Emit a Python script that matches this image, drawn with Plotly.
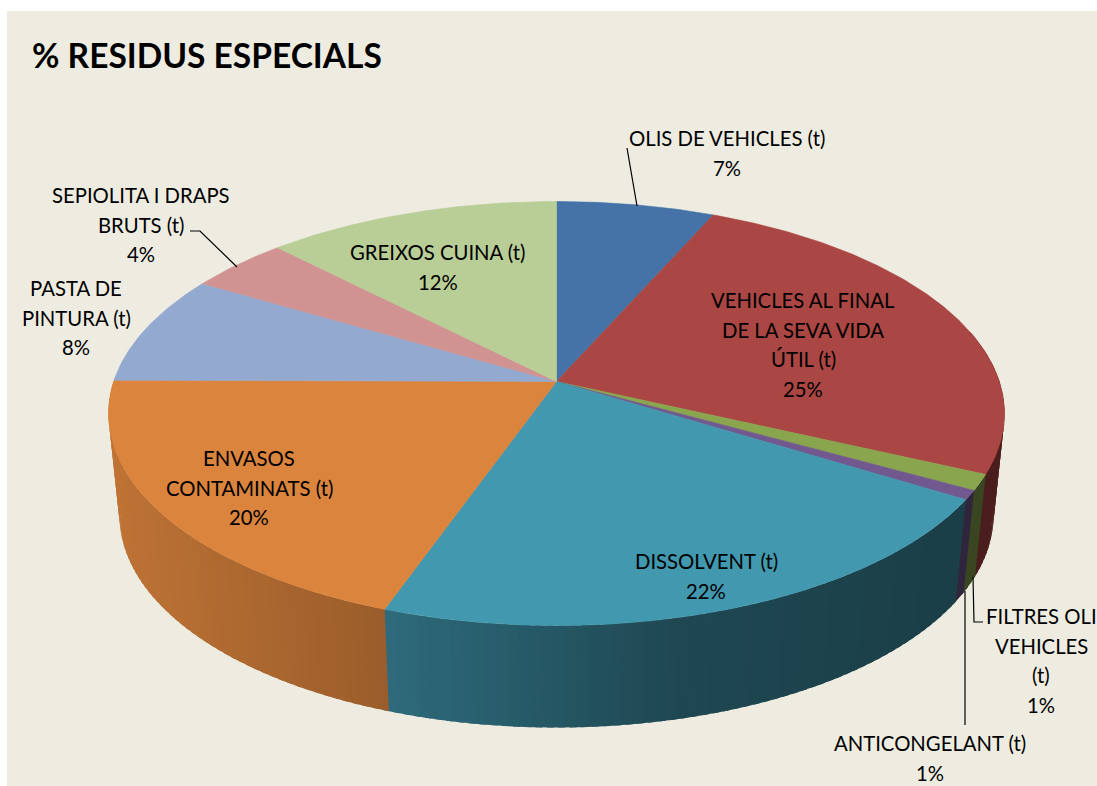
import numpy as np
import plotly.graph_objects as go

CATEGORIES = ["OLIS DE VEHICLES (t)", "VEHICLES AL FINAL DE LA SEVA VIDA ÚTIL (t)", "FILTRES OLI VEHICLES (t)",
              "ANTICONGELANT (t)", "DISSOLVENT (t)", "ENVASOS CONTAMINATS (t)", "PASTA DE PINTURA (t)",
              "SEPIOLITA I DRAPS BRUTS (t)", "GREIXOS CUINA (t)"]
VALUES = [6.6, 25.3, 1.2, 0.7, 21.6, 19.7, 8.4, 4.2, 12.3]
COLORS = ["#4573a7", "#aa4643", "#89a54e", "#71588f", "#4198af", "#db843d", "#93a9cf", "#d19392", "#b9cd96"]
LABEL_LINES = [["OLIS DE VEHICLES (t)"], ["VEHICLES AL FINAL", "DE LA SEVA VIDA", "ÚTIL (t)"],
               ["FILTRES OLI", "VEHICLES", "(t)"], ["ANTICONGELANT (t)"], ["DISSOLVENT (t)"],
               ["ENVASOS", "CONTAMINATS (t)"], ["PASTA DE", "PINTURA (t)"], ["SEPIOLITA I DRAPS", "BRUTS (t)"],
               ["GREIXOS CUINA (t)"]]
LABEL_X = [727, 803, 1041, 930, 706, 249, 76, 141, 438]
LABEL_Y = [138, 300, 616, 743, 561, 458, 288, 195, 252]
LINE_STEP = 29.5

FONT = "Lato"
BG = "#eeece1"
# disc geometry: (centre x, centre y, x radius, y radius)
TOP = (556.5, 413.5, 448, 212)
BOTTOM = (556.5, 515.5, 437, 212)
PERSP = 32 / 212
SHADE_X = [110, 390, 680, 960, 1005]
SHADE_F = [0.87, 0.70, 0.47, 0.41, 0.44]
STRIP = 0.022


def project(theta, disc):
    cx, cy, a, b = disc
    d = 1 + PERSP * np.cos(theta)
    x = cx + a * np.sqrt(1 - PERSP ** 2) * np.sin(theta) / d
    y = cy + b * (-np.cos(theta) - PERSP) / d
    return x, y


def shade(color, f):
    r, g, b = [int(color[i:i + 2], 16) for i in (1, 3, 5)]
    return f"rgb({r * f:.0f},{g * f:.0f},{b * f:.0f})"


fig = go.Figure()
edges = np.cumsum([0] + VALUES) / sum(VALUES) * 2 * np.pi
apex_x, apex_y = TOP[0], TOP[1] - TOP[3] * PERSP

# side wall, front half only, in narrow shaded strips painted in rising angle order
for i, color in enumerate(COLORS):
    lo, hi = max(edges[i], np.pi * 0.42), min(edges[i + 1], np.pi * 1.5)
    if hi <= lo:
        continue
    cuts = np.linspace(lo, hi, max(2, int((hi - lo) / STRIP) + 1))
    for t0, t1 in zip(cuts[:-1], cuts[1:]):
        t2 = min(t1 + STRIP * 0.6, hi + STRIP * 0.6)
        tt = np.array([t0, t2])
        xt, yt = project(tt, TOP)
        xb, yb = project(tt, BOTTOM)
        f = float(np.interp((project(t0, TOP)[0] + project(t1, TOP)[0]) / 2, SHADE_X, SHADE_F))
        fig.add_trace(go.Scatter(x=[xt[0], xt[1], xb[1], xb[0], xt[0]], y=[yt[0], yt[1], yb[1], yb[0], yt[0]],
                                 mode="lines", fill="toself", fillcolor=shade(color, f), line=dict(width=0),
                                 hoverinfo="skip", showlegend=False))

# top surface
for i, color in enumerate(COLORS):
    tt = np.linspace(edges[i], edges[i + 1], max(8, int((edges[i + 1] - edges[i]) / 0.01)))
    xs, ys = project(tt, TOP)
    fig.add_trace(go.Scatter(x=np.r_[apex_x, xs, apex_x], y=np.r_[apex_y, ys, apex_y], mode="lines",
                             fill="toself", fillcolor=color, line=dict(color=color, width=0.6),
                             name=CATEGORIES[i], hoverinfo="name", showlegend=False))

annotations = [dict(x=30, y=55, text="<b>% RESIDUS ESPECIALS</b>", showarrow=False, xanchor="left", yanchor="middle",
                    font=dict(family=FONT, size=33.5, color="#000000"))]
for lines, x, y, v in zip(LABEL_LINES, LABEL_X, LABEL_Y, VALUES):
    for k, line in enumerate(lines + [f"{round(v)}%"]):
        annotations.append(dict(x=x, y=y + k * LINE_STEP, text=line, showarrow=False, xanchor="center",
                                yanchor="middle", font=dict(family=FONT, size=20.3, color="#000000")))

leaders = ["M 627 148 L 637 206", "M 190 231 L 200 231 L 237 267",
           "M 973 577 L 974 622 L 983 622", "M 965 591 L 965 725"]
shapes = [dict(type="rect", xref="x", yref="y", x0=7, x1=1097, y0=11, y1=786, fillcolor=BG, line=dict(width=0),
               layer="below")]
shapes += [dict(type="path", xref="x", yref="y", path=p, line=dict(color="#000000", width=1.2)) for p in leaders]

fig.update_layout(width=1097, height=786, margin=dict(l=0, r=0, t=0, b=0), paper_bgcolor="#ffffff",
                  plot_bgcolor="#ffffff", showlegend=False, annotations=annotations, shapes=shapes,
                  xaxis=dict(range=[0, 1097], visible=False, fixedrange=True),
                  yaxis=dict(range=[786, 0], visible=False, fixedrange=True))
fig.write_html("out.html", config={"displayModeBar": False},
               post_script="document.body.style.margin='0';document.body.style.overflow='hidden';")
